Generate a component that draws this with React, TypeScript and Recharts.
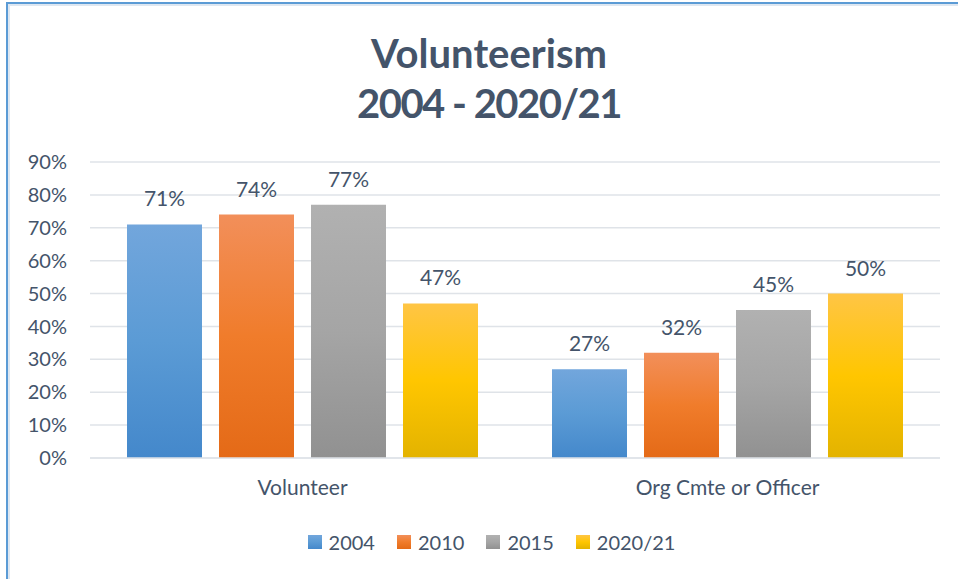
import React from "react";
import { BarChart, Bar, XAxis, YAxis, CartesianGrid, LabelList } from "recharts";

const categories = ["Volunteer", "Org Cmte or Officer"];
const series2004 = [0.71, 0.27];
const series2010 = [0.74, 0.32];
const series2015 = [0.77, 0.45];
const series2020 = [0.47, 0.50];
const seriesNames = ["2004", "2010", "2015", "2020/21"];
const yTicks = [0, 0.1, 0.2, 0.3, 0.4, 0.5, 0.6, 0.7, 0.8, 0.9];

const data = categories.map((c, i) => ({
  name: c,
  s2004: series2004[i],
  s2010: series2010[i],
  s2015: series2015[i],
  s2020: series2020[i],
}));

const gradients = [
  { id: "g2004", stops: [["0%", "#72A6DC"], ["50%", "#5B9BD5"], ["100%", "#4488CB"]] },
  { id: "g2010", stops: [["0%", "#F28F5A"], ["50%", "#F07C2B"], ["100%", "#E46A17"]] },
  { id: "g2015", stops: [["0%", "#B1B1B1"], ["50%", "#A5A5A5"], ["100%", "#919191"]] },
  { id: "g2020", stops: [["0%", "#FFC545"], ["50%", "#FFC600"], ["100%", "#E3B300"]] },
];
const keys = ["s2004", "s2010", "s2015", "s2020"];

const textColor = "#44546A";
const FONT = "Lato, 'Open Sans', sans-serif";

const pct = (v: number) => `${Math.round(v * 100)}%`;

const LegendBox = () => (
  <div
    style={{
      position: "absolute",
      left: 0,
      top: 529,
      width: 983,
      display: "flex",
      justifyContent: "center",
      alignItems: "center",
      fontFamily: FONT,
      fontSize: 20,
      lineHeight: "26px",
      color: textColor,
    }}
  >
    {seriesNames.map((n, i) => {
      const g = gradients[i];
      return (
        <div key={n} style={{ display: "flex", alignItems: "center", marginRight: i < 3 ? 22 : 0 }}>
          <div
            style={{
              width: 14,
              height: 14,
              marginRight: 7,
              background: `linear-gradient(to bottom, ${g.stops.map((s) => `${s[1]} ${s[0]}`).join(", ")})`,
            }}
          />
          <span>{n}</span>
        </div>
      );
    })}
  </div>
);

export default function App() {
  return (
    <div style={{ position: "absolute", left: 0, top: 0, width: 958, height: 579, background: "#fff", overflow: "hidden" }}>
      <div
        style={{
          position: "absolute",
          left: 6,
          top: 2,
          width: 1000,
          height: 700,
          borderLeft: "2px solid #5B9BD5",
          borderTop: "2px solid #5B9BD5",
        }}
      />
      <div
        style={{
          position: "absolute",
          left: 8,
          top: 4,
          width: 1000,
          height: 700,
          borderLeft: "2px solid #DEE7F1",
          borderTop: "2px solid #DEE7F1",
        }}
      />
      <div
        style={{
          position: "absolute",
          left: 0,
          top: 28,
          width: 978,
          textAlign: "center",
          fontFamily: FONT,
          fontWeight: 700,
          fontSize: 40,
          lineHeight: "50px",
          color: textColor,
        }}
      >
        <div>Volunteerism</div>
        <div style={{ letterSpacing: "-1.5px" }}>2004 - 2020/21</div>
      </div>
      <div style={{ position: "absolute", left: 0, top: 0 }}>
        <BarChart
          width={958}
          height={579}
          data={data}
          margin={{ top: 162, right: 18, bottom: 71, left: 0 }}
          barSize={75}
          barGap={17}
        >
          <defs>
            {gradients.map((g) => (
              <linearGradient key={g.id} id={g.id} x1="0" y1="0" x2="0" y2="1">
                {g.stops.map((s) => (
                  <stop key={s[0]} offset={s[0]} stopColor={s[1]} />
                ))}
              </linearGradient>
            ))}
          </defs>
          <CartesianGrid vertical={false} stroke="#DFE3E8" strokeWidth={1.5} />
          <XAxis
            dataKey="name"
            axisLine={{ stroke: "#DFE3E8", strokeWidth: 1.5 }}
            tickLine={false}
            tick={{ fill: textColor, fontSize: 21, fontFamily: FONT }}
            tickMargin={16}
            height={50}
          />
          <YAxis
            width={90}
            domain={[0, 0.9]}
            ticks={yTicks}
            tickFormatter={pct}
            axisLine={false}
            tickLine={false}
            tickSize={0}
            tickMargin={23}
            tick={{ fill: textColor, fontSize: 20, fontFamily: FONT }}
            interval={0}
          />
          {keys.map((k, i) => (
            <Bar key={k} dataKey={k} name={seriesNames[i]} fill={`url(#${gradients[i].id})`} isAnimationActive={false}>
              <LabelList
                dataKey={k}
                position="top"
                offset={18}
                formatter={(v: number) => pct(v)}
                style={{ fill: textColor, fontSize: 21, fontFamily: FONT }}
              />
            </Bar>
          ))}
        </BarChart>
      </div>
      <LegendBox />
    </div>
  );
}
